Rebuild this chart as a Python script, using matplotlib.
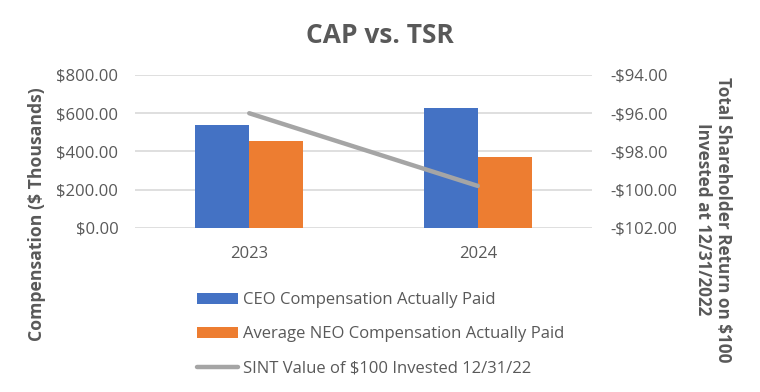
import numpy as np
import matplotlib.pyplot as plt
from matplotlib.ticker import FuncFormatter

plt.rcParams['font.family'] = ['Open Sans', 'DejaVu Sans']

# data
years = ['2023', '2024']
ceo_cap = [537, 629]
neo_cap = [455, 370]
tsr = [-96.0, -99.8]

blue = '#4472C4'
orange = '#ED7D31'
grey = '#A5A5A5'
txt = '#595959'

fig = plt.figure(figsize=(7.6, 3.92), dpi=100)
ax = fig.add_axes([0.1776, 0.4184, 0.6014, 0.3903])
x = np.arange(len(years))
w = 0.236

b1 = ax.bar(x - w / 2, ceo_cap, w, color=blue, zorder=2, label='CEO Compensation Actually Paid')
b2 = ax.bar(x + w / 2, neo_cap, w, color=orange, zorder=2, label='Average NEO Compensation Actually Paid')
ax.set_xlim(-0.5, 1.5)
ax.set_ylim(0, 800)
ax.set_yticks(np.arange(0, 801, 200))
ax.yaxis.set_major_formatter(FuncFormatter(lambda v, p: f'${v:,.2f}'.replace(',', '')))
ax.set_xticks(x)
ax.set_xticklabels(years)
ax.grid(axis='y', color='#D9D9D9', lw=1.2, zorder=0)
ax.set_axisbelow(True)
for s in ax.spines.values():
    s.set_visible(False)
ax.tick_params(length=0, colors=txt, labelsize=12, pad=12)
ax.tick_params(axis='x', pad=13)

ax2 = ax.twinx()
l1, = ax2.plot(x, tsr, color=grey, lw=3.2, solid_capstyle='round', zorder=3,
               label='SINT Value of $100 Invested 12/31/22')
ax2.set_ylim(-102, -94)
ax2.set_yticks(np.arange(-102, -93, 2))
ax2.yaxis.set_major_formatter(FuncFormatter(lambda v, p: f'-${abs(v):.2f}' if v < 0 else f'${v:.2f}'))
for s in ax2.spines.values():
    s.set_visible(False)
ax2.tick_params(length=0, colors=txt, labelsize=12, pad=13)

fig.text(0.5, 0.91, 'CAP vs. TSR', ha='center', va='center', fontsize=19,
         fontweight='bold', color=txt)
fig.text(0.049, 0.455, 'Compensation ($ Thousands)', rotation=90, ha='center', va='center',
         fontsize=12.7, fontweight='bold', color=txt)
fig.text(0.938, 0.44, 'Total Shareholder Return on $100\nInvested at 12/31/2022', rotation=-90,
         ha='center', va='center', fontsize=12.3, fontweight='bold', color=txt, linespacing=1.1)

fig.legend(handles=[b1, b2, l1], loc='upper left', bbox_to_anchor=(0.239, 0.293),
           frameon=False, fontsize=12, labelcolor=txt, handlelength=2.5,
           handleheight=0.6, handletextpad=0.3, labelspacing=1.1)

plt.savefig('out.png', dpi=100)
